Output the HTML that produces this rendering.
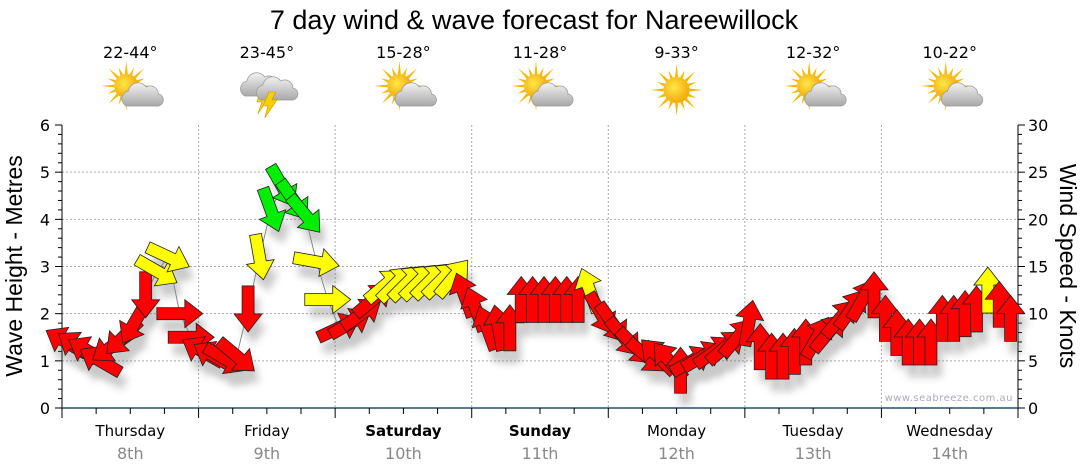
<!DOCTYPE html>
<html><head><meta charset="utf-8">
<style>
html,body{margin:0;padding:0;background:#fff;}
svg{display:block;font-family:"DejaVu Sans","Liberation Sans",sans-serif;}
</style></head>
<body>
<svg id="chart" width="1080" height="475" viewBox="0 0 1080 475" xmlns="http://www.w3.org/2000/svg">
<defs>
<filter id="sh" x="-50%" y="-50%" width="200%" height="200%"><feGaussianBlur stdDeviation="4"/></filter>
<radialGradient id="sunG" cx="0.4" cy="0.4" r="0.7"><stop offset="0" stop-color="#ffe74a"/><stop offset="1" stop-color="#f0a000"/></radialGradient>
<linearGradient id="cloudG" x1="0" y1="0" x2="0" y2="1"><stop offset="0" stop-color="#f2f2f2"/><stop offset="1" stop-color="#a8a8a8"/></linearGradient>
</defs>
<text x="534" y="29" text-anchor="middle" font-family="Liberation Sans, sans-serif" font-size="27" fill="#000">7 day wind &amp; wave forecast for Nareewillock</text>
<g id="header"></g>
<g id="grid"></g>
<g id="axes"></g>
<g id="shadows" opacity="0.35"></g>
<path id="windline" fill="none" stroke="#888" stroke-width="1"/>
<g id="arrows"></g>
<text transform="translate(22,266) rotate(-90)" text-anchor="middle" font-family="Liberation Sans, sans-serif" font-size="23" fill="#000">Wave Height - Metres</text>
<text transform="translate(1060,266) rotate(90)" text-anchor="middle" font-family="Liberation Sans, sans-serif" font-size="23" fill="#000">Wind Speed - Knots</text>
<text x="1013" y="401" text-anchor="end" font-size="10" fill="#aab" letter-spacing="0.5">www.seabreeze.com.au</text>
</svg>
<script>
const days = ["Thursday","Friday","Saturday","Sunday","Monday","Tuesday","Wednesday"];
const dates = ["8th","9th","10th","11th","12th","13th","14th"];
const boldDays = [false,false,true,true,false,false,false];
const temps = ["22-44°","23-45°","15-28°","11-28°","9-33°","12-32°","10-22°"];
const icons = ["partly","storm","partly","partly","sun","partly","partly"];
const leftTicks = [0,1,2,3,4,5,6];
const rightTicks = [0,5,10,15,20,25,30];
// wind speed (knots) every 2 hours
const windKnots = [
 7,6.5,6,5,6.5,7.5,9,12,14.5,16,10,7.5,
 6,5.5,5.2,5.5,10.5,16,21,23.5,22,20.5,15.5,11.5,
 8.5,9,10,11.5,13,13.2,13.3,13.4,13.5,13.6,13.8,12,
 10.5,8.5,8.5,8.5,11.5,11.5,11.5,11.5,11.5,11.5,12.5,10,
 9,7.5,6.5,5.5,5.5,5,4,5,5.5,6,6.5,7.5,
 9,6.5,5.5,5.5,6,7,7.5,8,9.5,10.5,11.5,12,
 9.5,8,7,7,7,9.5,9.5,10,10.5,12.5,11,9.5];
// arrow heading in degrees (0 = up, clockwise)
const windDir = [
 300,305,300,300,235,225,210,180,120,115,90,90,
 300,300,120,130,180,170,160,150,145,140,100,90,
 65,60,55,50,50,45,45,45,45,45,40,340,
 340,340,350,0,0,0,0,0,0,0,340,150,
 145,140,135,130,315,320,0,60,60,55,50,40,
 10,0,0,0,0,0,30,40,40,35,30,0,
 0,0,0,0,0,0,0,0,0,0,0,0];
// colour category: r=light, y=moderate, g=strong
const windCat = [
 "r","r","r","r","r","r","r","r","y","y","r","r",
 "r","r","r","r","r","y","g","g","g","g","y","y",
 "r","r","r","r","y","y","y","y","y","y","y","r",
 "r","r","r","r","r","r","r","r","r","r","y","r",
 "r","r","r","r","r","r","r","r","r","r","r","r",
 "r","r","r","r","r","r","r","r","r","r","r","r",
 "r","r","r","r","r","r","r","r","r","y","r","r"];
const catColor = {r:"#ff0000",y:"#ffff00",g:"#00ee00"};

const NS="http://www.w3.org/2000/svg";
const X0=62, X1=1018, Y0=408, Y1=125;
const dayW=(X1-X0)/7;
const xT = t => X0 + t*dayW;
const yM = m => Y0 - m*(Y0-Y1)/6;
const yK = k => Y0 - k*(Y0-Y1)/30;
function el(tag,attrs,parent,txt){const e=document.createElementNS(NS,tag);for(const k in attrs)e.setAttribute(k,attrs[k]);if(txt!==undefined)e.textContent=txt;parent.appendChild(e);return e;}

const grid=document.getElementById('grid'), axes=document.getElementById('axes'), header=document.getElementById('header');
for(let m=1;m<=5;m++){const g=el('line',{x1:X0,x2:X1,y1:yM(m),y2:yM(m),stroke:'#aaa','stroke-dasharray':'2,2'},grid);

}
for(let d=1;d<7;d++){const g=el('line',{x1:xT(d),x2:xT(d),y1:Y1,y2:Y0,stroke:'#aaa','stroke-dasharray':'2,2'},grid);

}
el('line',{x1:X0,x2:X0,y1:Y1,y2:Y0,stroke:'#000'},axes);
el('line',{x1:X1,x2:X1,y1:Y1,y2:Y0,stroke:'#000'},axes);
const xa=el('line',{x1:X0,x2:X1,y1:Y0,y2:Y0,stroke:'#1f4e79','stroke-width':1.5},axes);


for(let i=0;i<=30;i++){const y=Y0-i*(Y0-Y1)/30;const big=i%5===0;
 el('line',{x1:X0-(big?7:4),x2:X0,y1:y,y2:y,stroke:'#000'},axes);
 el('line',{x1:X1,x2:X1+(big?7:4),y1:y,y2:y,stroke:'#000'},axes);}
leftTicks.forEach(v=>{const t=el('text',{x:X0-12,y:yM(v)+6,'text-anchor':'end','font-size':16},axes,String(v));

});
rightTicks.forEach(v=>{const t=el('text',{x:X1+10,y:yK(v)+6,'text-anchor':'start','font-size':16},axes,String(v));

});
for(let q=0;q<=28;q++){const x=xT(q/4);el('line',{x1:x,x2:x,y1:Y0,y2:Y0+(q%4===0?10:6),stroke:'#000'},axes);}
days.forEach((d,i)=>{const cx=xT(i+0.5);
 const t=el('text',{x:cx,y:436,'text-anchor':'middle','font-size':15,'font-weight':boldDays[i]?'bold':'normal',fill:'#000'},axes,d);
 
 
 const s=el('text',{x:cx,y:459,'text-anchor':'middle','font-size':16,fill:'#888'},axes,dates[i]);
 
 
 const tt=el('text',{x:cx,y:58,'text-anchor':'middle','font-size':16,fill:'#000'},header,temps[i]);
 
 
 const g=el('g',{transform:`translate(${cx},92)`},header);
 
 
 drawIcon(g,icons[i]);
});
function sun(g,x,y,r){
 for(let a=0;a<360;a+=22.5){const rad=a*Math.PI/180,l=(a/22.5)%2?r+8:r+13;
  el('polygon',{points:`${x+Math.cos(rad-0.12)*r},${y+Math.sin(rad-0.12)*r} ${x+Math.cos(rad)*l},${y+Math.sin(rad)*l} ${x+Math.cos(rad+0.12)*r},${y+Math.sin(rad+0.12)*r}`,fill:'#f5b800'},g);}
 el('circle',{cx:x,cy:y,r:r,fill:'url(#sunG)'},g);}
function cloud(g,x,y,s){
 const p=`M${x-14*s},${y+10*s} a8,8 0 0 1 2,-15 a10,10 0 0 1 18,-4 a8,8 0 0 1 12,7 a6,6 0 0 1 -2,12 z`;
 el('path',{d:p,fill:'url(#cloudG)',stroke:'#999','stroke-width':0.7},g);}
function drawIcon(g,type){
 if(type==='sun'){sun(g,0,-2,13);return;}
 if(type==='storm'){
  cloud(g,-8,-6,1);
  el('polygon',{points:'-4,-6 -10,10 -5,10 -9,22 3,4 -2,4 2,-6',fill:'#f5d000',stroke:'#c90','stroke-width':0.6},g);
  cloud(g,8,-2,1);
  el('polygon',{points:'2,0 -4,14 1,14 -2,26 10,8 5,8 9,0',fill:'#f5d000',stroke:'#c90','stroke-width':0.6},g);
  return;}
 sun(g,-4,-6,12); cloud(g,10,4,1);
}
const arrowsG=document.getElementById('arrows'), shG=document.getElementById('shadows');
const ARW='M-6,23 L6,23 L6,-5 L14,-5 L0,-23 L-14,-5 L-6,-5 Z';
let d='';
windKnots.forEach((k,i)=>{
 const x=xT(i/12)+4, y=yK(k);
 d+=(i?'L':'M')+x.toFixed(1)+','+y.toFixed(1);
 const s=el('path',{d:ARW,transform:`translate(${x+5},${y+12}) rotate(${windDir[i]})`,fill:'#666',filter:'url(#sh)'},shG);
 
 
 const a=el('path',{d:ARW,transform:`translate(${x},${y}) rotate(${windDir[i]})`,fill:catColor[windCat[i]],stroke:'#222','stroke-width':0.8,'stroke-linejoin':'miter'},arrowsG);
 
 
});
document.getElementById('windline').setAttribute('d',d);
</script>
</body></html>
